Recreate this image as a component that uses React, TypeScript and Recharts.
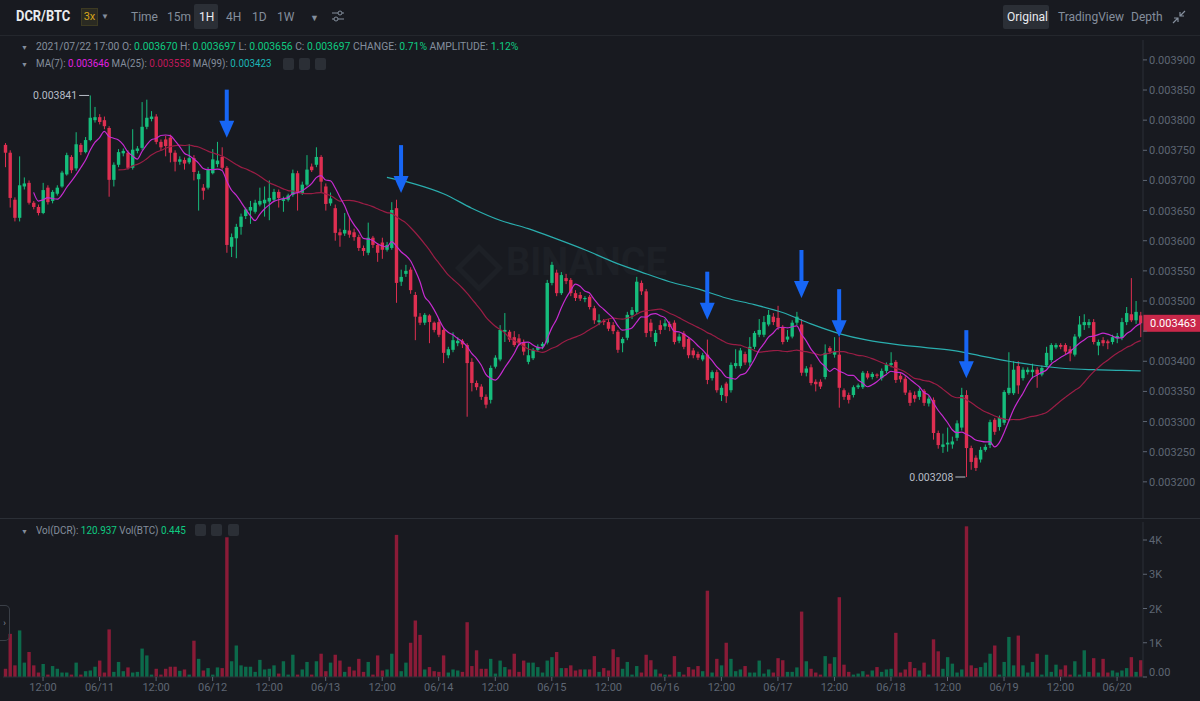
import { ComposedChart, Bar, Line, XAxis, YAxis, ReferenceDot, ReferenceLine, Cell } from 'recharts';

/* DCR/BTC 1H — candles 06/10 04:00 … 06/20 05:00.
   prices in 1e-6 BTC (3759 = 0.003759), volume in DCR. */
type Candle = [number, number, number, number, number]; // open, high, low, close, volume

const D0610: Candle[] = [
  [3759, 3762, 3722, 3746, 240], [3746, 3750, 3655, 3671, 1260], [3668, 3672, 3632, 3638, 340], [3638, 3740, 3632, 3692, 1360],
  [3690, 3705, 3685, 3695, 420], [3696, 3700, 3660, 3663, 730], [3663, 3666, 3652, 3656, 340], [3656, 3660, 3642, 3646, 130],
  [3646, 3696, 3644, 3684, 380], [3688, 3692, 3660, 3664, 70], [3666, 3684, 3662, 3681, 320], [3678, 3692, 3675, 3688, 240],
  [3690, 3716, 3688, 3713, 130], [3710, 3746, 3708, 3742, 130], [3739, 3742, 3712, 3717, 70], [3720, 3780, 3716, 3760, 420],
  [3759, 3762, 3742, 3747, 70], [3747, 3772, 3745, 3767, 170], [3767, 3841, 3765, 3804, 190], [3800, 3822, 3796, 3805, 300],
];
const D0611: Candle[] = [
  [3805, 3810, 3793, 3797, 480], [3800, 3806, 3785, 3790, 130], [3787, 3790, 3673, 3701, 1390], [3701, 3730, 3690, 3726, 150],
  [3726, 3752, 3722, 3747, 440], [3745, 3753, 3740, 3749, 170], [3746, 3750, 3718, 3721, 280], [3721, 3785, 3718, 3751, 130],
  [3749, 3757, 3745, 3753, 150], [3754, 3830, 3750, 3789, 830], [3789, 3834, 3785, 3804, 630], [3802, 3815, 3798, 3806, 70],
  [3806, 3810, 3760, 3764, 240], [3764, 3768, 3750, 3755, 70], [3768, 3774, 3740, 3757, 240], [3771, 3776, 3730, 3746, 300],
  [3746, 3750, 3715, 3731, 300], [3731, 3740, 3726, 3735, 180], [3734, 3738, 3718, 3728, 220], [3730, 3760, 3727, 3737, 70],
  [3737, 3742, 3700, 3714, 1060], [3702, 3716, 3650, 3711, 530], [3688, 3694, 3668, 3683, 190], [3688, 3722, 3685, 3718, 260],
];
const D0612: Candle[] = [
  [3712, 3752, 3710, 3735, 70], [3727, 3764, 3722, 3733, 280], [3739, 3755, 3718, 3721, 260], [3721, 3724, 3580, 3593, 4080],
  [3590, 3612, 3573, 3606, 460], [3604, 3628, 3571, 3623, 920], [3623, 3645, 3610, 3640, 340], [3641, 3655, 3636, 3652, 300],
  [3650, 3666, 3628, 3656, 300], [3648, 3668, 3645, 3663, 150], [3660, 3688, 3657, 3666, 500], [3662, 3690, 3640, 3668, 220],
  [3665, 3700, 3634, 3671, 240], [3668, 3686, 3665, 3681, 340], [3681, 3685, 3655, 3671, 100], [3666, 3673, 3648, 3669, 460],
  [3668, 3678, 3665, 3675, 70], [3676, 3718, 3673, 3712, 650], [3712, 3716, 3650, 3679, 70], [3679, 3698, 3676, 3693, 220],
  [3693, 3742, 3690, 3718, 440], [3723, 3728, 3714, 3717, 70], [3726, 3755, 3722, 3739, 460], [3739, 3742, 3680, 3698, 680],
];
const D0613: Candle[] = [
  [3690, 3695, 3650, 3661, 170], [3662, 3680, 3658, 3670, 420], [3654, 3660, 3600, 3613, 650], [3614, 3620, 3590, 3609, 480],
  [3612, 3646, 3608, 3618, 150], [3617, 3640, 3605, 3610, 300], [3614, 3620, 3600, 3606, 190], [3606, 3610, 3583, 3588, 530],
  [3588, 3592, 3575, 3583, 150], [3580, 3630, 3576, 3605, 440], [3605, 3608, 3588, 3593, 70], [3593, 3596, 3565, 3580, 630],
  [3597, 3605, 3570, 3585, 190], [3585, 3598, 3582, 3593, 220], [3588, 3664, 3585, 3651, 680], [3654, 3668, 3497, 3530, 4150],
  [3532, 3552, 3525, 3540, 170], [3545, 3560, 3540, 3550, 420], [3552, 3556, 3512, 3518, 1000], [3510, 3515, 3435, 3474, 1650],
  [3474, 3480, 3460, 3464, 1230], [3464, 3480, 3460, 3477, 220], [3476, 3478, 3430, 3465, 290], [3464, 3466, 3448, 3452, 170],
];
const D0614: Candle[] = [
  [3465, 3470, 3440, 3444, 150], [3452, 3455, 3397, 3414, 630], [3410, 3424, 3405, 3420, 130], [3419, 3448, 3415, 3435, 220],
  [3430, 3440, 3425, 3434, 190], [3434, 3437, 3422, 3428, 150], [3427, 3430, 3308, 3397, 1600], [3399, 3405, 3350, 3364, 320],
  [3364, 3368, 3352, 3357, 780], [3358, 3362, 3336, 3341, 240], [3341, 3345, 3322, 3328, 240], [3336, 3393, 3330, 3389, 530],
  [3391, 3410, 3388, 3406, 100], [3403, 3460, 3400, 3452, 480], [3449, 3480, 3432, 3452, 290], [3449, 3452, 3432, 3436, 220],
  [3440, 3450, 3424, 3427, 680], [3438, 3445, 3426, 3430, 150], [3432, 3436, 3410, 3416, 480], [3399, 3430, 3395, 3410, 420],
  [3405, 3422, 3402, 3419, 420], [3419, 3428, 3416, 3424, 290], [3425, 3432, 3420, 3429, 130], [3431, 3535, 3428, 3530, 480],
];
const D0615: Candle[] = [
  [3530, 3565, 3526, 3560, 580], [3547, 3552, 3508, 3513, 730], [3513, 3548, 3510, 3543, 260], [3538, 3545, 3528, 3533, 260],
  [3535, 3538, 3508, 3513, 340], [3513, 3518, 3500, 3505, 190], [3510, 3515, 3500, 3504, 220], [3503, 3508, 3498, 3505, 220],
  [3507, 3510, 3486, 3490, 220], [3488, 3492, 3462, 3468, 610], [3465, 3478, 3460, 3468, 150], [3467, 3470, 3460, 3465, 260],
  [3465, 3470, 3450, 3454, 190], [3460, 3465, 3445, 3450, 810], [3449, 3452, 3414, 3419, 580], [3430, 3440, 3415, 3437, 240],
  [3439, 3482, 3435, 3477, 440], [3477, 3490, 3470, 3485, 70], [3482, 3540, 3478, 3532, 320], [3530, 3534, 3510, 3516, 130],
  [3516, 3520, 3440, 3447, 650], [3464, 3470, 3440, 3450, 490], [3432, 3452, 3425, 3447, 220], [3460, 3468, 3445, 3452, 100],
];
const D0616: Candle[] = [
  [3458, 3470, 3452, 3463, 70], [3462, 3466, 3450, 3457, 70], [3464, 3468, 3428, 3432, 610], [3434, 3446, 3430, 3441, 150],
  [3446, 3450, 3420, 3424, 70], [3437, 3440, 3405, 3410, 290], [3418, 3422, 3405, 3410, 220], [3412, 3416, 3402, 3406, 320],
  [3403, 3414, 3400, 3410, 170], [3411, 3436, 3362, 3369, 2520], [3372, 3385, 3368, 3382, 130], [3382, 3386, 3348, 3352, 530],
  [3344, 3360, 3334, 3356, 340], [3363, 3366, 3331, 3342, 1000], [3352, 3398, 3348, 3394, 530], [3392, 3420, 3388, 3397, 170],
  [3392, 3422, 3388, 3418, 220], [3412, 3416, 3394, 3398, 320], [3398, 3440, 3392, 3424, 130], [3424, 3450, 3420, 3447, 130],
  [3444, 3470, 3440, 3452, 480], [3444, 3475, 3440, 3465, 100], [3461, 3485, 3458, 3477, 220], [3474, 3480, 3460, 3465, 130],
];
const D0617: Candle[] = [
  [3472, 3492, 3452, 3457, 550], [3457, 3460, 3428, 3432, 490], [3436, 3452, 3432, 3441, 150], [3441, 3468, 3438, 3464, 150],
  [3464, 3482, 3460, 3474, 280], [3461, 3470, 3376, 3381, 1910], [3381, 3392, 3375, 3388, 460], [3390, 3395, 3360, 3364, 240],
  [3366, 3370, 3350, 3362, 130], [3366, 3370, 3354, 3358, 70], [3374, 3428, 3370, 3414, 610], [3422, 3425, 3412, 3416, 390],
  [3411, 3440, 3406, 3416, 580], [3411, 3440, 3323, 3356, 2330], [3352, 3355, 3336, 3341, 360], [3344, 3348, 3330, 3336, 150],
  [3344, 3360, 3340, 3357, 70], [3357, 3363, 3354, 3360, 100], [3357, 3384, 3354, 3381, 170], [3380, 3384, 3370, 3373, 70],
  [3374, 3382, 3370, 3379, 190], [3378, 3380, 3372, 3376, 290], [3372, 3388, 3368, 3384, 150], [3384, 3398, 3380, 3394, 220],
];
const D0618: Candle[] = [
  [3394, 3415, 3390, 3397, 240], [3399, 3402, 3364, 3369, 1290], [3376, 3380, 3365, 3370, 130], [3371, 3375, 3344, 3348, 220],
  [3348, 3352, 3326, 3331, 440], [3344, 3350, 3332, 3338, 260], [3341, 3355, 3336, 3351, 190], [3351, 3354, 3326, 3331, 420],
  [3330, 3342, 3325, 3338, 70], [3336, 3340, 3270, 3281, 1100], [3281, 3285, 3255, 3261, 750], [3258, 3280, 3248, 3262, 240],
  [3262, 3290, 3250, 3265, 580], [3262, 3275, 3255, 3267, 390], [3273, 3302, 3268, 3297, 130], [3290, 3356, 3285, 3344, 220],
  [3344, 3352, 3208, 3256, 4400], [3256, 3260, 3220, 3233, 340], [3240, 3244, 3218, 3223, 260], [3237, 3258, 3232, 3253, 290],
  [3253, 3262, 3250, 3258, 420], [3261, 3303, 3256, 3299, 680], [3303, 3306, 3278, 3283, 920], [3291, 3310, 3285, 3306, 70],
];
const D0619: Candle[] = [
  [3298, 3352, 3294, 3349, 440], [3347, 3415, 3344, 3356, 1170], [3347, 3400, 3344, 3386, 340], [3392, 3400, 3346, 3360, 1210],
  [3372, 3390, 3368, 3386, 340], [3382, 3390, 3378, 3386, 130], [3382, 3396, 3372, 3386, 440], [3386, 3390, 3356, 3378, 680],
  [3378, 3393, 3375, 3389, 70], [3393, 3424, 3390, 3414, 650], [3402, 3430, 3398, 3427, 150], [3423, 3430, 3420, 3427, 360],
  [3427, 3430, 3420, 3424, 220], [3427, 3430, 3412, 3416, 340], [3420, 3425, 3400, 3413, 70], [3411, 3445, 3408, 3441, 460],
  [3441, 3475, 3438, 3461, 70], [3460, 3478, 3452, 3465, 780], [3460, 3470, 3455, 3465, 150], [3465, 3470, 3428, 3432, 550],
  [3426, 3436, 3410, 3432, 130], [3435, 3440, 3425, 3430, 530], [3433, 3436, 3420, 3430, 130], [3432, 3444, 3428, 3440, 190],
];
const D0620: Candle[] = [
  [3438, 3447, 3430, 3442, 130], [3439, 3472, 3435, 3465, 190], [3465, 3490, 3460, 3480, 260], [3478, 3538, 3465, 3468, 580],
  [3468, 3500, 3462, 3482, 150], [3476, 3482, 3440, 3463, 490],
];

// MA(99): [candle index, value]
const MA99_READ: [number, number][] = [
  [81, 3705], [87, 3694], [93, 3678], [99, 3654], [105, 3634], [111, 3620], [117, 3603], [123, 3585], [129, 3565],
  [135, 3548], [141, 3532], [147, 3520], [153, 3505], [159, 3494], [165, 3481], [171, 3462], [177, 3446], [183, 3435],
  [189, 3428], [195, 3423], [201, 3418], [207, 3409], [213, 3400], [219, 3393], [225, 3388], [231, 3386], [237, 3385], [241, 3384],
];

const PRICE_TICKS = [3150, 3200, 3250, 3300, 3350, 3400, 3450, 3500, 3550, 3600, 3650, 3700, 3750, 3800, 3850, 3900];
const VOL_TICKS = [0, 1000, 2000, 3000, 4000];
const X_TICK_IDX = [8, 20, 32, 44, 56, 68, 80, 92, 104, 116, 128, 140, 152, 164, 176, 188, 200, 212, 224, 236];
const X_TICK_LABELS = ['12:00', '06/11', '12:00', '06/12', '12:00', '06/13', '12:00', '06/14', '12:00', '06/15',
  '12:00', '06/16', '12:00', '06/17', '12:00', '06/18', '12:00', '06/19', '12:00', '06/20'];
// user-drawn blue arrows: [candle index, price at tip]
const ARROWS: [number, number][] = [[47, 3771], [84, 3679], [149, 3469], [169, 3505], [177, 3440], [204, 3372]];
const EXTREMES: [number, number][] = [[18, 3841], [204, 3208]];
const LAST_PRICE = 3463;

const BG = '#181a20';
const LINE = '#2b2f36';
const AXIS_TXT = '#5e6673';
const GRAY = '#848e9c';
const UP = '#16bd7c';
const DOWN = '#de2f51';
const UP_VOL = '#0c6a4b';
const DOWN_VOL = '#8a1b37';
const MA7_C = '#c62bd0';
const MA25_C = '#9a1d45';
const MA99_C = '#2aaeae';
const ARROW_C = '#1766f5';
const FONT = 'Roboto, "Noto Sans", sans-serif';

const CANDLES: Candle[] = [...D0610, ...D0611, ...D0612, ...D0613, ...D0614, ...D0615, ...D0616, ...D0617, ...D0618, ...D0619, ...D0620];
const closes = CANDLES.map((c) => c[3]);
const ma = (n: number, i: number) => {
  if (i < n - 1) return undefined;
  let s = 0;
  for (let k = i - n + 1; k <= i; k++) s += closes[k];
  return s / n;
};
const ma99Map = new Map(MA99_READ);
const ROWS = CANDLES.map(([o, h, l, c, v], i) => ({
  i, o, h, l, c, v,
  range: [l, h],
  ma7: ma(7, i),
  ma25: ma(25, i),
  ma99: ma99Map.get(i),
}));

const fmtPrice = (v: number) => (v / 1e6).toFixed(6);
const BODY_W = 3.4;

const CandleShape = (p: any) => {
  const { x, y, width, height, payload } = p;
  if (!payload) return null;
  const { o, h, l, c } = payload;
  const col = c >= o ? UP : DOWN;
  const top = Math.min(y, y + height);
  const hh = Math.abs(height);
  const k = hh / Math.max(h - l, 1e-9);
  const bTop = top + (h - Math.max(o, c)) * k;
  const bBot = top + (h - Math.min(o, c)) * k;
  const cx = x + width / 2;
  return (
    <g>
      <line x1={cx} x2={cx} y1={top} y2={top + hh} stroke={col} strokeWidth={1} />
      <rect x={cx - BODY_W / 2} y={bTop} width={BODY_W} height={Math.max(1, bBot - bTop)} fill={col} />
    </g>
  );
};

const VolShape = (p: any) => {
  const { x, y, width, height, fill } = p;
  const top = Math.min(y, y + height);
  return <rect x={x + width / 2 - BODY_W / 2} y={top} width={BODY_W} height={Math.abs(height)} fill={fill} />;
};

const ArrowShape = (p: any) => {
  const { cx, cy } = p;
  return (
    <g>
      <rect x={cx - 2} y={cy - 48} width={4} height={34} fill={ARROW_C} />
      <path d={`M${cx - 7.5},${cy - 17} L${cx + 7.5},${cy - 17} L${cx},${cy} Z`} fill={ARROW_C} />
    </g>
  );
};

const ExtremeShape = (p: any) => {
  const { cx, cy, label } = p;
  return (
    <g>
      <line x1={cx - 11} x2={cx - 1} y1={cy} y2={cy} stroke="#b7bdc6" strokeWidth={1} />
      <text x={cx - 13} y={cy} dy={4} textAnchor="end" fill="#b7bdc6" fontSize={10.5} fontFamily={FONT}>{label}</text>
    </g>
  );
};

const LastTag = (p: any) => {
  const vb = p.viewBox;
  if (!vb) return null;
  const x = vb.x + vb.width;
  return (
    <g>
      <rect x={x} y={vb.y - 8.5} width={57} height={17} fill="#c9284a" />
      <text x={x + 7} y={vb.y} dy={4} fill="#ffffff" fontSize={11} fontFamily={FONT}>{fmtPrice(LAST_PRICE)}</text>
    </g>
  );
};

const PriceTick = (p: any) => {
  const { x, y, payload } = p;
  // the last-price tag covers the label under it
  if (Math.abs(payload.value - LAST_PRICE) < 20) return null;
  return (
    <text x={x} y={y} dy={4} fill={AXIS_TXT} fontSize={11} fontFamily={FONT}>{fmtPrice(payload.value)}</text>
  );
};

const VolTick = (p: any) => {
  const { x, y, payload } = p;
  const v = payload.value;
  const txt = v === 0 ? '0.00' : `${v / 1000}K`;
  return (
    <text x={x} y={v === 0 ? y - 5 : y} dy={4} fill={AXIS_TXT} fontSize={11} fontFamily={FONT}>{txt}</text>
  );
};

const T = (props: { x: number; y: number; c?: string; s?: number; w?: number; sx?: number; ls?: number; children: any }) => (
  <div
    style={{
      position: 'absolute', left: props.x, top: props.y, color: props.c ?? GRAY, fontSize: props.s ?? 12,
      fontWeight: props.w ?? 400, whiteSpace: 'nowrap', lineHeight: '14px', letterSpacing: props.ls ?? 0,
      transform: props.sx ? `scaleX(${props.sx})` : undefined, transformOrigin: 'left center',
    }}
  >
    {props.children}
  </div>
);

const Box = ({ x, y, w, h, bg }: { x: number; y: number; w: number; h: number; bg: string }) => (
  <div style={{ position: 'absolute', left: x, top: y, width: w, height: h, background: bg, borderRadius: 2 }} />
);

const G = ({ children }: { children: any }) => <span style={{ color: '#0ecb81' }}>{children}</span>;

export default function App() {
  return (
    <div style={{ position: 'absolute', left: 0, top: 0, width: 1200, height: 701, background: BG, overflow: 'hidden', fontFamily: FONT }}>
      {/* toolbar */}
      <T x={16} y={9} c="#eaecef" s={15} w={700} sx={0.86}>DCR/BTC</T>
      <div style={{ position: 'absolute', left: 81, top: 8, width: 15, height: 16, background: '#2a2a22', border: '1px solid #3d3a22', color: '#d6a51a', fontSize: 11, lineHeight: '16px', textAlign: 'center' }}>3x</div>
      <T x={101} y={10} s={8}>▼</T>
      <T x={131} y={10}>Time</T>
      <T x={167} y={10}>15m</T>
      <Box x={194} y={4} w={24} h={25} bg="#2b2f36" />
      <T x={199} y={10} c="#eaecef">1H</T>
      <T x={226} y={10}>4H</T>
      <T x={252} y={10}>1D</T>
      <T x={277} y={10}>1W</T>
      <T x={310} y={11} s={9}>▼</T>
      <svg style={{ position: 'absolute', left: 331, top: 9 }} width={14} height={14}>
        <line x1={1} x2={13} y1={4} y2={4} stroke={GRAY} />
        <line x1={1} x2={13} y1={10} y2={10} stroke={GRAY} />
        <circle cx={9} cy={4} r={2} fill={BG} stroke={GRAY} />
        <circle cx={5} cy={10} r={2} fill={BG} stroke={GRAY} />
      </svg>
      <Box x={1003} y={5} w={46} h={24} bg="#2b2f36" />
      <T x={1007} y={10} c="#eaecef">Original</T>
      <T x={1058} y={10}>TradingView</T>
      <T x={1131} y={10}>Depth</T>
      <svg style={{ position: 'absolute', left: 1172, top: 10 }} width={14} height={14}>
        <path d="M13,1 L8,6 M8,2 L8,6 L12,6 M1,13 L6,8 M2,8 L6,8 L6,12" stroke={GRAY} strokeWidth={1.2} fill="none" />
      </svg>
      <div style={{ position: 'absolute', left: 0, top: 35, width: 1200, height: 1, background: '#24272d' }} />

      {/* legends */}
      <T x={21} y={41} s={7}>▼</T>
      <T x={36} y={40} s={11} sx={0.94}>
        2021/07/22 17:00 O: <G>0.003670</G> H: <G>0.003697</G> L: <G>0.003656</G> C: <G>0.003697</G> CHANGE: <G>0.71%</G> AMPLITUDE: <G>1.12%</G>
      </T>
      <T x={21} y={58} s={7}>▼</T>
      <T x={36} y={57} s={11} sx={0.89}>
        MA(7): <span style={{ color: '#e020e0' }}>0.003646</span> MA(25): <span style={{ color: '#c2185b' }}>0.003558</span> MA(99): <span style={{ color: '#1bb5b5' }}>0.003423</span>
      </T>
      <Box x={283} y={58} w={11} h={12} bg="#2b2f36" />
      <Box x={299} y={58} w={11} h={12} bg="#2b2f36" />
      <Box x={315} y={58} w={11} h={12} bg="#2b2f36" />

      {/* watermark */}
      <div style={{ position: 'absolute', left: 462, top: 251, width: 34, height: 34, border: '5px solid #1d2026', transform: 'rotate(45deg)', boxSizing: 'border-box' }} />
      <T x={506} y={255} c="#1d2026" s={38} w={700}>BINANCE</T>

      {/* price pane */}
      <div style={{ position: 'absolute', left: 0, top: 36 }}>
        <ComposedChart width={1200} height={482} data={ROWS} margin={{ top: 4, right: 0, bottom: 0, left: 3 }} barCategoryGap={0}>
          <XAxis dataKey="i" hide />
          <YAxis
            orientation="right"
            width={57}
            domain={[3140, 3933]}
            ticks={PRICE_TICKS}
            allowDataOverflow
            tick={PriceTick}
            tickSize={4}
            tickMargin={2}
            tickLine={{ stroke: AXIS_TXT }}
            axisLine={{ stroke: LINE }}
          />
          <Bar dataKey="range" shape={CandleShape} isAnimationActive={false} />
          <Line dataKey="ma99" stroke={MA99_C} strokeWidth={1.2} dot={false} connectNulls type="monotone" isAnimationActive={false} />
          <Line dataKey="ma25" stroke={MA25_C} strokeWidth={1.2} dot={false} type="monotone" isAnimationActive={false} />
          <Line dataKey="ma7" stroke={MA7_C} strokeWidth={1.2} dot={false} type="monotone" isAnimationActive={false} />
          {EXTREMES.map(([i, v]) => (
            <ReferenceDot key={`e${i}`} x={i} y={v} r={1} ifOverflow="visible" shape={(p: any) => <ExtremeShape {...p} label={fmtPrice(v)} />} />
          ))}
          {ARROWS.map(([i, v]) => (
            <ReferenceDot key={`a${i}`} x={i} y={v} r={1} ifOverflow="visible" shape={ArrowShape} />
          ))}
          <ReferenceLine y={LAST_PRICE} stroke="none" ifOverflow="visible" label={<LastTag />} />
        </ComposedChart>
      </div>
      <div style={{ position: 'absolute', left: 0, top: 518, width: 1200, height: 1, background: LINE }} />

      {/* volume pane */}
      <T x={21} y={525} s={7}>▼</T>
      <T x={36} y={524} s={11} sx={0.9}>
        Vol(DCR): <G>120.937</G> Vol(BTC) <G>0.445</G>
      </T>
      <Box x={195} y={524} w={11} h={12} bg="#2b2f36" />
      <Box x={211} y={524} w={11} h={12} bg="#2b2f36" />
      <Box x={228} y={524} w={11} h={12} bg="#2b2f36" />
      <div style={{ position: 'absolute', left: 0, top: 518 }}>
        <ComposedChart width={1200} height={183} data={ROWS} margin={{ top: 4, right: 0, bottom: 0, left: 3 }} barCategoryGap={0}>
          <XAxis
            dataKey="i"
            height={24}
            ticks={X_TICK_IDX}
            interval={0}
            tickFormatter={(v: number) => X_TICK_LABELS[X_TICK_IDX.indexOf(v)]}
            tick={{ fill: AXIS_TXT, fontSize: 11, fontFamily: FONT }}
            tickSize={4}
            tickMargin={2}
            tickLine={{ stroke: AXIS_TXT }}
            axisLine={{ stroke: LINE }}
          />
          <YAxis
            orientation="right"
            width={57}
            domain={[0, 4526]}
            ticks={VOL_TICKS}
            allowDataOverflow
            tick={VolTick}
            tickSize={4}
            tickMargin={2}
            tickLine={{ stroke: AXIS_TXT }}
            axisLine={{ stroke: LINE }}
          />
          <Bar dataKey="v" shape={VolShape} isAnimationActive={false}>
            {ROWS.map((r) => (
              <Cell key={r.i} fill={r.c >= r.o ? UP_VOL : DOWN_VOL} />
            ))}
          </Bar>
        </ComposedChart>
      </div>
      {/* side panel tab */}
      <div style={{ position: 'absolute', left: 0, top: 605, width: 9, height: 34, border: '1px solid #3a3f47', borderLeft: 'none', borderRadius: '0 5px 5px 0', color: GRAY, fontSize: 9, lineHeight: '34px', textAlign: 'center' }}>›</div>
    </div>
  );
}
